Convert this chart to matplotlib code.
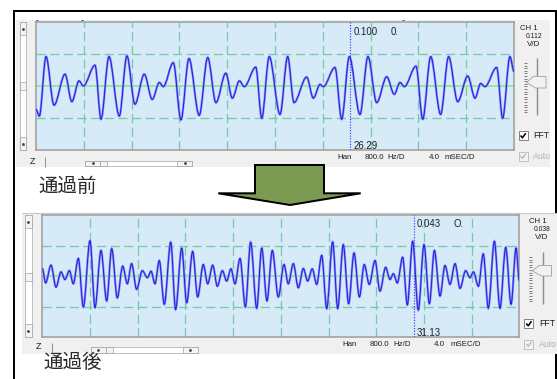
import matplotlib
matplotlib.use("Agg")
import matplotlib.pyplot as plt
from matplotlib.patches import Rectangle, Polygon, PathPatch
from matplotlib.path import Path

# Scope readings: time (ms) and amplitude (screen divisions) at each turning point
pre_t = [0.00, 0.28, 0.84, 1.51, 2.43, 3.00, 3.60, 3.96, 4.94, 5.44,
         6.11, 6.97, 7.61, 8.28, 9.06, 9.73, 10.32, 10.65, 11.49, 12.13,
         12.80, 13.66, 14.37, 15.06, 15.88, 16.43, 17.02, 17.43, 18.39, 18.89,
         19.52, 20.42, 21.06, 21.59, 22.65, 23.21, 23.77, 24.04, 25.02, 25.58,
         26.22, 27.11, 27.78, 28.51, 29.35, 29.98, 30.46, 30.82, 31.80, 32.36,
         33.03, 33.86, 34.53, 35.29, 36.13, 36.74, 37.21, 37.57, 38.55, 39.05,
         39.66, 40.00]
pre_v = [-0.73, -0.94, 0.92, -0.60, 0.37, -0.49, 0.16, 0.00, 0.65, -1.04,
         0.92, -0.94, 0.94, -0.57, 0.37, -0.42, 0.11, -0.02, 0.73, -1.06,
         0.86, -0.92, 0.89, -0.52, 0.40, -0.38, 0.16, -0.02, 0.59, -1.01,
         0.92, -0.89, 0.92, -0.52, 0.28, -0.38, 0.05, -0.02, 0.58, -1.04,
         0.92, -0.89, 0.92, -0.52, 0.29, -0.26, 0.11, -0.02, 0.62, -1.04,
         0.92, -0.89, 0.92, -0.49, 0.31, -0.38, 0.08, -0.02, 0.58, -1.01,
         0.92, 0.45]

post_t = [0.00, 0.28, 0.73, 1.15, 1.57, 1.90, 2.27, 2.60, 3.02, 3.44,
          4.00, 4.42, 4.92, 5.40, 5.82, 6.29, 6.74, 7.13, 7.49, 7.91,
          8.39, 8.81, 9.12, 9.45, 9.81, 10.23, 10.77, 11.18, 11.69, 12.11,
          12.61, 13.03, 13.50, 13.87, 14.29, 14.68, 15.10, 15.46, 15.82, 16.16,
          16.58, 17.03, 17.47, 17.98, 18.40, 18.84, 19.29, 19.79, 20.27, 20.63,
          21.05, 21.47, 21.89, 22.25, 22.64, 23.01, 23.43, 23.85, 24.35, 24.77,
          25.24, 25.69, 26.14, 26.59, 27.00, 27.42, 27.90, 28.32, 28.79, 29.16,
          29.44, 29.77, 30.22, 30.61, 31.06, 31.53, 32.01, 32.46, 32.88, 33.35,
          33.77, 34.19, 34.61, 35.03, 35.50, 35.87, 36.15, 36.57, 36.98, 37.40,
          37.91, 38.38, 38.86, 39.31, 39.73, 40.00]
post_v = [0.25, -0.22, 0.36, -0.36, 0.14, -0.11, 0.18, -0.25, 0.58, -1.01,
          1.16, -1.03, 0.84, -0.81, 0.90, -0.71, 0.33, -0.25, 0.41, -0.43,
          0.18, -0.05, 0.16, -0.25, 0.51, -0.92, 1.11, -1.09, 0.92, -0.87,
          0.81, -0.68, 0.38, -0.25, 0.36, -0.33, 0.18, -0.16, 0.24, -0.25,
          0.58, -1.01, 1.11, -1.05, 0.92, -0.81, 0.84, -0.68, 0.38, -0.25,
          0.41, -0.38, 0.25, -0.16, 0.24, -0.27, 0.68, -1.06, 1.12, -1.06,
          1.03, -0.90, 0.76, -0.68, 0.38, -0.27, 0.51, -0.49, 0.29, -0.11,
          0.08, -0.22, 0.62, -0.94, 1.14, -1.11, 1.03, -0.90, 0.84, -0.65,
          0.35, -0.27, 0.41, -0.40, 0.18, -0.05, 0.14, -0.33, 0.73, -1.05,
          1.14, -1.05, 0.94, -0.92, 0.92, -0.16]

volts_per_div = [0.112, 0.038]
cursor_t = [26.29, 31.13]
cursor_v = [0.100, 0.043]
cursor_tail = ["0.", "O."]
captions = ["通過前", "通過後"]

W, H = 557, 379
UI = "Liberation Sans"
JP = ["Noto Sans CJK JP", "DejaVu Sans"]
PX = 0.72  # points per pixel at 100 dpi

fig = plt.figure(figsize=(W / 100, H / 100), dpi=100)
fig.patch.set_facecolor("white")

# background layer in pixel units (origin top-left)
bg = fig.add_axes([0, 0, 1, 1])
bg.set_xlim(0, W)
bg.set_ylim(H, 0)
bg.axis("off")


def box(ax, x0, y0, x1, y1, fc, ec="none", lw=0.0, z=1):
    p = Rectangle((x0, y0), x1 - x0, y1 - y0, fc=fc, ec=ec, lw=lw, zorder=z)
    ax.add_patch(p)
    return p


def line(ax, xs, ys, color, lw_px, z=2, **kw):
    ax.plot(xs, ys, color=color, lw=lw_px * PX, zorder=z,
            solid_capstyle="butt", **kw)


def label(ax, x, y, s, size, color="#202020", ha="left", **kw):
    return ax.text(x, y, s, fontsize=size, color=color, ha=ha, va="center",
                   family=UI, zorder=5, **kw)


def wave_path(t, v):
    # smooth curve through the turning points, flat tangent at each one
    verts = [(t[0], v[0])]
    codes = [Path.MOVETO]
    for i in range(1, len(t)):
        d = (t[i] - t[i - 1]) / 3.0
        verts += [(t[i - 1] + d, v[i - 1]), (t[i] - d, v[i]), (t[i], v[i])]
        codes += [Path.CURVE4] * 3
    return Path(verts, codes)


# outer frame (the captures sit on top of it)
line(bg, [13.5, 13.5], [10, H], "black", 2, z=0.5)
line(bg, [13, W], [10.8, 10.8], "black", 2, z=0.5)
line(bg, [556, 556], [10, H], "black", 2, z=0.5)


# one scope window: panel, scrollbars, side controls
def window(panel, vscroll, hscroll, zline, slider, chk, info):
    box(bg, *panel, "#f0f0f0", z=1)
    # vertical scrollbar
    x0, y0, x1, y1, th = vscroll
    box(bg, x0, y0, x1, y1, "white", "#a8a8a8", 0.5, z=2)
    for a, b in ((y0, y0 + 13), (y1 - 13, y1), (th, th + 8)):
        box(bg, x0, a, x1, b, "#f4f4f4", "#a0a0a0", 0.5, z=3)
    bg.plot([(x0 + x1) / 2] * 2, [y0 + 6.5, y1 - 6.5], ls="none", marker="s",
            ms=0.9, color="#404040", zorder=4)
    # horizontal scrollbar
    x0, y0, x1, y1, th = hscroll
    box(bg, x0, y0, x1, y1, "white", "#a8a8a8", 0.5, z=2)
    for a, b in ((x0, x0 + 15), (x1 - 15, x1), (th, th + 7)):
        box(bg, a, y0, b, y1, "#f4f4f4", "#a0a0a0", 0.5, z=3)
    bg.plot([x0 + 7.5, x1 - 7.5], [(y0 + y1) / 2] * 2, ls="none", marker="s",
            ms=0.9, color="#404040", zorder=4)
    # Z button
    zx, zy, zr, zt, zb = zline
    label(bg, zx, zy, "Z", 6.5, ha="center")
    line(bg, [zr, zr], [zt, zb], "#909090", 1, z=3)
    # gain slider
    sx, st, sb, tx, ht, hb, tip, hr = slider
    line(bg, [sx, sx], [st, sb], "#8c8c8c", 1.4, z=3)
    y = st + 5
    while y < sb - 2:
        line(bg, [tx - 1.5, tx + 1.5], [y, y], "#505050", 0.7, z=3)
        y += 2.6
    bg.add_patch(Polygon([(tip, (ht + hb) / 2), (tip + 7, ht), (hr, ht),
                          (hr, hb), (tip + 9, hb)], closed=True,
                         fc="#f2f2f2", ec="#a0a0a0", lw=0.6, zorder=4))
    # checkboxes
    cx0, cy0 = chk
    box(bg, cx0, cy0, cx0 + 9, cy0 + 9, "white", "#707070", 0.6, z=3)
    line(bg, [cx0 + 2, cx0 + 4, cx0 + 7.2], [cy0 + 4.5, cy0 + 6.8, cy0 + 2.2],
         "black", 1.6, z=4)
    label(bg, cx0 + 15, cy0 + 4.6, "FFT", 6.3)
    gy = cy0 + 20.5
    box(bg, cx0, gy, cx0 + 9, gy + 9, "#f4f4f4", "#b8b8b8", 0.6, z=3)
    line(bg, [cx0 + 2, cx0 + 4, cx0 + 7.2], [gy + 4.5, gy + 6.8, gy + 2.2],
         "#b8b8b8", 1.4, z=4)
    clip = Rectangle((panel[0], panel[1]), panel[2] - panel[0],
                     panel[3] - panel[1], transform=bg.transData)
    auto = label(bg, cx0 + 14.5, gy + 4.8, "Auto", 6.3, color="#b4b4b4")
    auto.set_clip_on(True)
    auto.set_clip_path(clip)
    # status line
    iy, words = info
    for x, s in words:
        label(bg, x, iy, s, 5.7)


window((16, 19.5, 550, 166.5),
       (19.5, 22, 26, 150, 82), (85, 160.5, 192, 166, 100),
       (33, 161.5, 45, 157, 166.5),
       (537, 58, 115, 525, 76.5, 88, 526.5, 546),
       (518.5, 131),
       (157.5, [(337, "Han"), (365, "800.0"), (387.5, "Hz/D"),
                (429, "4.0"), (445, "mSEC/D")]))
window((21.5, 213, W, 353.5),
       (25, 215, 31.7, 337.3, 272.5), (90.5, 346.5, 197.5, 352.5, 106),
       (38, 346.5, 51.5, 343, 353.5),
       (543.3, 252, 304, 530.5, 265.5, 276, 532.3, 551.5),
       (524.3, 319),
       (345, [(342.7, "Han"), (370, "800.0"), (393, "Hz/D"),
              (434, "4.0"), (450.5, "mSEC/D")]))
line(bg, [21.5, W], [213, 213], "#c4c4c4", 1, z=2)

# channel captions
for (x, y), vd in zip([(529, 28.5), (537.5, 221.5)], volts_per_div):
    label(bg, x, y, "CH 1", 5.6, ha="center")
    label(bg, x + 5, y + 8, f"{vd:.3f}", 4.9, ha="center")
    label(bg, x + 4.5, y + 16, "V/D", 5.8, ha="center")

# trace markers above the first screen
for x in (36.8, 81.7, 403):
    line(bg, [x - 0.8, x + 0.8], [20.3, 20.3], "#3a3aff", 1, z=3)

# down arrow between the two captures
bg.add_patch(Polygon([(255, 165), (324, 165), (324, 193.3), (360.7, 193.3),
                      (290, 205), (218.3, 193.3), (255, 193.3)], closed=True,
                     fc="#7b9b52", ec="black", lw=2 * PX, joinstyle="miter",
                     zorder=6))

# oscilloscope screens
screens = [((36, 22, 514, 150), pre_t, pre_v),
           ((42.3, 215, 519.3, 337.3), post_t, post_v)]
for i, ((l, tp, r, b), t, v) in enumerate(screens):
    ax = fig.add_axes([l / W, 1 - b / H, (r - l) / W, (b - tp) / H])
    ax.set_xlim(0, 40)
    ax.set_ylim(-2, 2)
    ax.set_facecolor("#d7eaf7")
    ax.set_xticks([])
    ax.set_yticks([])
    for s in ax.spines.values():
        s.set_color("#a0a0a0")
        s.set_linewidth(1.6 * PX)
    for x in range(4, 40, 4):
        ax.axvline(x, color="#72cba9", lw=1.3 * PX, ls=(0, (7, 3.5)), zorder=1)
    for y in (-1, 1):
        ax.axhline(y, color="#72cba9", lw=1.3 * PX, ls=(0, (7, 3.5)), zorder=1)
    ax.axhline(0, color="#86e686", lw=1.6 * PX, zorder=1)
    trace = wave_path(t, v)
    ax.add_patch(PathPatch(trace, fill=False, ec="#8c8cf6", lw=2.3 * PX,
                           zorder=3))
    ax.add_patch(PathPatch(trace, fill=False, ec="#1f1fe0", lw=1.0 * PX,
                           zorder=3))
    ax.axvline(cursor_t[i], color="#3a3aff", lw=1.2 * PX,
               ls=(0, (1, 1.3)), zorder=4)

# overlay for text drawn above the screens
ov = fig.add_axes([0, 0, 1, 1])
ov.set_xlim(0, W)
ov.set_ylim(H, 0)
ov.axis("off")
ov.patch.set_alpha(0)

for (x, yt, yb), tv, vv, tail in zip([(354, 31.7, 146.3), (416.7, 224.3, 333.3)],
                                     cursor_t, cursor_v, cursor_tail):
    label(ov, x, yt, f"{vv:.3f}", 6.9)
    label(ov, x + 37, yt, tail, 6.9)
    label(ov, x, yb, f"{tv:.2f}", 6.9)

for (x, y), s in zip([(38, 186.5), (43, 362)], captions):
    ov.text(x, y, s, fontsize=14, color="#2a2a2a", ha="left", va="center",
            family=JP, zorder=6)

fig.savefig("out.png", dpi=100)
